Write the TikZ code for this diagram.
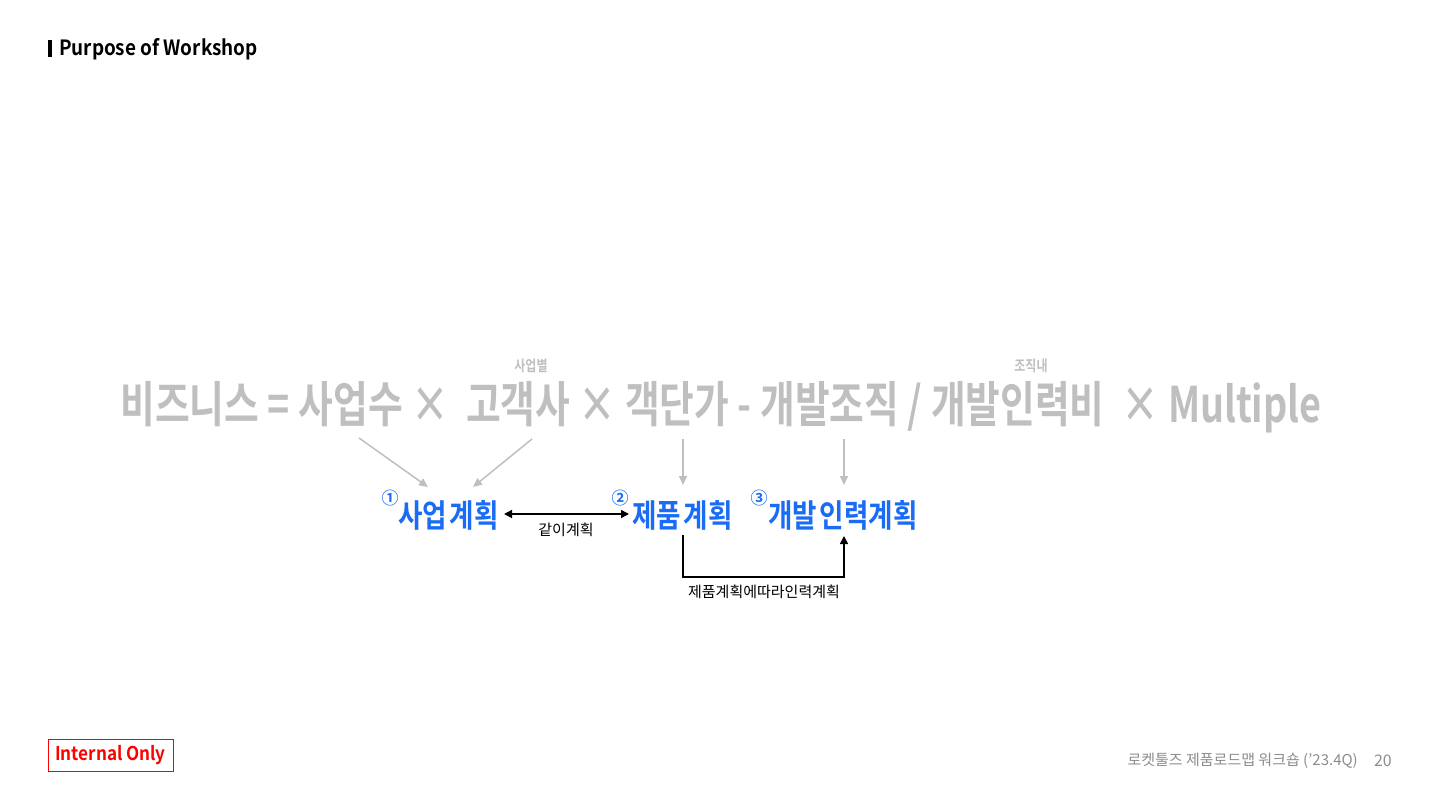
\documentclass[tikz,border=0pt]{standalone}
\usepackage{fontspec}
\setmainfont{Noto Sans CJK KR}[BoldFont={Noto Sans CJK KR Bold}]
\usetikzlibrary{arrows.meta}
\definecolor{fgray}{HTML}{BFBFBF}
\definecolor{fblue}{HTML}{1A6CF5}
\definecolor{fred}{HTML}{FF0000}
\definecolor{footgray}{HTML}{8C8C8C}
\tikzset{
  formula/.style={text=fgray, font=\fontsize{49}{49}\selectfont\bfseries, xscale=0.77, transform shape, inner sep=0pt},
  smallgray/.style={text=fgray, font=\fontsize{15}{15}\selectfont\bfseries, xscale=0.8, transform shape, inner sep=0pt},
  plan/.style={text=fblue, font=\fontsize{32}{32}\selectfont\bfseries, xscale=0.83, transform shape, inner sep=0pt},
  numc/.style={text=fblue, font=\fontsize{17}{17}\selectfont\bfseries, inner sep=0pt},
  garrow/.style={draw=fgray, line width=1.5pt, -{Triangle[length=9pt,width=8pt]}},
  barrow/.style={draw=black, line width=1.5pt, -{Triangle[length=8pt,width=8pt]}},
  blabel/.style={text=black, font=\fontsize{15}{15}\selectfont, inner sep=0pt},
}
\begin{document}
\begin{tikzpicture}[x=1pt,y=-1pt]
\useasboundingbox (0,0) rectangle (1440,810);
% title
\fill[black] (48,40) rectangle (51.5,57);
\node[anchor=base west, inner sep=0pt, font=\fontsize{21}{21}\selectfont\bfseries, xscale=0.9, transform shape] (title) at (59,56) {Purpose of Workshop};
% formula
\node[formula, anchor=center] (formula) at (721,407) {비즈니스 = 사업수 × \ 고객사 × 객단가 - 개발조직 / 개발인력비 \ × Multiple};
\node[smallgray] (sub1) at (531,366) {사업별};
\node[smallgray] (sub2) at (1031,366) {조직내};
% plans
\node[plan, anchor=west] (p1) at (398,515) {사업\hspace{-0.12em} 계획};
\node[plan, anchor=west] (p2) at (632,515) {제품\hspace{-0.12em} 계획};
\node[plan, anchor=west] (p3) at (768,515) {개발\hspace{-0.12em} 인력계획};
\node[numc] (n1) at (390,498) {①};
\node[numc] (n2) at (620,498) {②};
\node[numc] (n3) at (759,498) {③};
% gray arrows
\coordinate (a1s) at (359,438); \coordinate (a1e) at (428,487);
\coordinate (a2s) at (532,439); \coordinate (a2e) at (473,487);
\coordinate (a3s) at (683,439); \coordinate (a3e) at (683,485);
\coordinate (a4s) at (844,439); \coordinate (a4e) at (844,485);
\draw[garrow] (a1s) -- (a1e);
\draw[garrow] (a2s) -- (a2e);
\draw[garrow] (a3s) -- (a3e);
\draw[garrow] (a4s) -- (a4e);
% black connectors
\coordinate (b1) at (504,514); \coordinate (b2) at (629,514);
\draw[barrow, {Triangle[length=8pt,width=8pt]}-{Triangle[length=8pt,width=8pt]}] (b1) -- (b2);
\node[blabel] (l1) at (566,530) {같이계획};
\coordinate (c1) at (683,535); \coordinate (c2) at (844,536);
\draw[barrow] (c1) |- (763,577) -| (c2);
\node[blabel] (l2) at (764,592) {제품계획에따라인력계획};
% footer
\node[draw=fred, line width=1pt, minimum width=125pt, minimum height=32pt, inner sep=0pt, text=fred, font=\fontsize{19}{19}\selectfont\bfseries] (io) at (110.5,755) {\scalebox{0.9}[1]{Internal Only}};
\node[anchor=east, inner sep=0pt, text=footgray, font=\fontsize{15}{15}\selectfont] (foot) at (1358,761) {로켓툴즈 제품로드맵 워크숍 ('23.4Q)};
\node[anchor=east, inner sep=0pt, text=footgray, font=\fontsize{16}{16}\selectfont] (page) at (1392,761) {20};
\end{tikzpicture}
\end{document}
